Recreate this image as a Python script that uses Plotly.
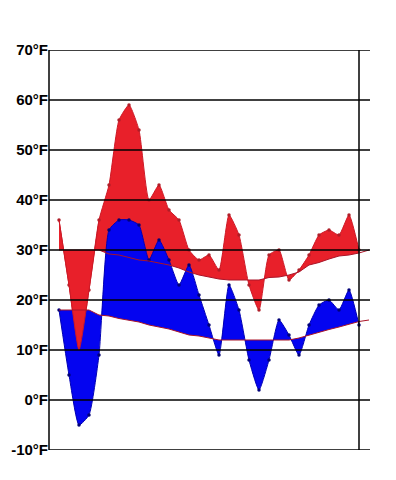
import plotly.graph_objects as go

days = list(range(1, 32))
days_ext = list(range(1, 33))

high = [36, 23, 10, 22, 36, 43, 56, 59, 54, 40, 43, 38, 36, 30, 28, 29, 26, 37, 33, 23,
        18, 29, 30, 24, 26, 29, 33, 34, 33, 37, 30]
low = [18, 5, -5, -3, 9, 34, 36, 36, 35, 28, 32, 28, 23, 27, 21, 15, 9, 23, 18, 8,
       2, 8, 16, 13, 9, 15, 19, 20, 18, 22, 15]
normal_high = [30, 30, 30, 30, 30, 29.2, 29, 28.5, 28, 27.8, 27.4, 27, 26.4, 25.6, 25, 24.6,
               24.2, 24, 24, 24, 24, 24.5, 24.6, 25, 25.6, 27, 27.5, 28.2, 28.8, 29, 29.4, 30]
normal_low = [18, 18, 18, 18, 17, 16.8, 16.3, 16, 15.6, 15, 14.6, 14.2, 13.6, 13, 12.8, 12.4,
              12, 12, 12, 12, 12, 12, 12, 12, 12.4, 13, 13.6, 14.1, 14.6, 15.2, 15.7, 16]

tick_vals = [-10, 0, 10, 20, 30, 40, 50, 60, 70]
tick_text = ["-10°F", "0°F", "10°F", "20°F", "30°F", "40°F", "50°F", "60°F", "70°F"]

RED = "rgb(232,32,42)"
RED_EDGE = "rgb(205,25,38)"
BLUE = "rgb(4,4,240)"
BLUE_EDGE = "rgb(0,0,180)"
NORM = "rgb(170,20,40)"
SM = 0.5

fig = go.Figure()

# red: high vs normal high
fig.add_trace(go.Scatter(x=days, y=normal_high[:31], mode="lines",
                         line=dict(width=0, color=NORM), hoverinfo="skip", showlegend=False))
fig.add_trace(go.Scatter(x=days, y=high, mode="lines+markers", fill="tonexty", fillcolor=RED,
                         line=dict(width=1, color=RED_EDGE, shape="spline", smoothing=SM),
                         marker=dict(size=3.5, color="rgb(175,30,40)"), showlegend=False))
# blue: low vs normal low
fig.add_trace(go.Scatter(x=days, y=normal_low[:31], mode="lines",
                         line=dict(width=0, color=NORM), hoverinfo="skip", showlegend=False))
fig.add_trace(go.Scatter(x=days, y=low, mode="lines+markers", fill="tonexty", fillcolor=BLUE,
                         line=dict(width=1, color=BLUE_EDGE, shape="spline", smoothing=SM),
                         marker=dict(size=3.5, color="rgb(0,0,120)"), showlegend=False))
# red again on top for the first days
fig.add_trace(go.Scatter(x=days[:5], y=normal_high[:5], mode="lines",
                         line=dict(width=0, color=NORM), hoverinfo="skip", showlegend=False))
fig.add_trace(go.Scatter(x=days[:5], y=high[:5], mode="lines", fill="tonexty", fillcolor=RED,
                         line=dict(width=1, color=RED_EDGE, shape="spline", smoothing=SM),
                         showlegend=False))
# normal lines
fig.add_trace(go.Scatter(x=days_ext, y=normal_high, mode="lines",
                         line=dict(width=1, color=NORM), showlegend=False))
fig.add_trace(go.Scatter(x=days_ext, y=normal_low, mode="lines",
                         line=dict(width=1, color=NORM), showlegend=False))

shapes = []
for v in tick_vals:
    shapes.append(dict(type="line", xref="paper", yref="y", x0=0, x1=1, y0=v, y1=v,
                       line=dict(color="black", width=1.5), layer="above"))
shapes.append(dict(type="line", xref="x", yref="y", x0=days[-1], x1=days[-1],
                   y0=tick_vals[0], y1=tick_vals[-1], line=dict(color="black", width=1.5),
                   layer="above"))
shapes.append(dict(type="line", xref="paper", yref="y", x0=0, x1=0,
                   y0=tick_vals[0], y1=tick_vals[-1], line=dict(color="black", width=1.5),
                   layer="above"))

fig.update_layout(
    width=388, height=472,
    margin=dict(l=41, r=26, t=42, b=30),
    paper_bgcolor="white", plot_bgcolor="white",
    shapes=shapes,
    xaxis=dict(range=[0, 32.1], showgrid=False, zeroline=False, showticklabels=False,
               showline=False, ticks="", automargin=False),
    yaxis=dict(range=[-10, 70], tickvals=tick_vals, ticktext=tick_text, showgrid=False,
               zeroline=False, showline=False, ticks="", automargin=False,
               tickfont=dict(family="Liberation Sans, Arial, sans-serif", size=15,
                             color="black", weight="bold")),
)

fig.write_html("out.html")
